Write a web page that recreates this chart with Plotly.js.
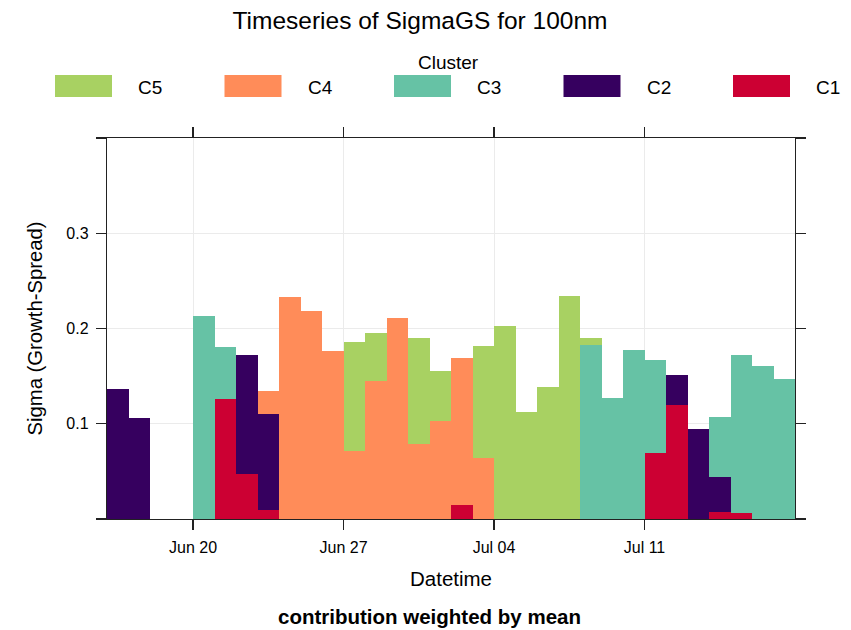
<!DOCTYPE html>
<html>
<head>
<meta charset="utf-8">
<script src="https://cdn.plot.ly/plotly-3.0.1.min.js"></script>
<style>
  html, body { margin: 0; padding: 0; background: #ffffff; }
  #chart { width: 851px; height: 630px; }
</style>
</head>
<body>
<div id="chart"></div>
<script>
// Daily mean SigmaGS (100 nm), split into cluster contributions.
const days = [
  '2023-06-16','2023-06-17','2023-06-18','2023-06-19','2023-06-20','2023-06-21','2023-06-22','2023-06-23',
  '2023-06-24','2023-06-25','2023-06-26','2023-06-27','2023-06-28','2023-06-29','2023-06-30','2023-07-01',
  '2023-07-02','2023-07-03','2023-07-04','2023-07-05','2023-07-06','2023-07-07','2023-07-08','2023-07-09',
  '2023-07-10','2023-07-11','2023-07-12','2023-07-13','2023-07-14','2023-07-15','2023-07-16','2023-07-17'
];

const c1 = [null,null,null,null,null,0.126,0.047,0.009,null,null,null,null,null,null,null,null,
            0.015,null,null,null,null,null,null,null,null,0.069,0.120,null,0.007,0.006,null,null];
const c2 = [0.137,0.106,null,null,null,null,0.125,0.101,null,null,null,null,null,null,null,null,
            null,null,null,null,null,null,null,null,null,null,0.031,0.094,0.037,null,null,null];
const c3 = [null,null,null,null,0.213,0.055,null,null,null,null,null,null,null,null,null,null,
            null,null,null,null,null,null,0.183,0.127,0.177,0.098,null,null,0.063,0.166,0.161,0.147];
const c4 = [null,null,null,null,null,null,null,0.024,0.233,0.218,0.176,0.071,0.145,0.211,0.079,0.103,
            0.154,0.064,null,null,null,null,null,null,null,null,null,null,null,null,null,null];
const c5 = [null,null,null,null,null,null,null,null,null,null,null,0.115,0.050,null,0.111,0.052,
            null,0.118,0.203,0.112,0.139,0.234,0.007,null,null,null,null,null,null,null,null,null];

const clusterNames = ['C1','C2','C3','C4','C5'];
const clusterValues = [c1, c2, c3, c4, c5];
const clusterColors = ['#CC0033','#36005F','#66C2A5','#FF8C59','#A8D162'];

const xTicks = ['2023-06-20','2023-06-27','2023-07-04','2023-07-11'];
const yTicks = [0, 0.1, 0.2, 0.3, 0.4];
const yTickText = ['', '0.1', '0.2', '0.3', ''];
const xRange = ['2023-06-16', '2023-07-18'];
const yRange = [0, 0.4];

const DAY_MS = 86400000;
const FONT = 'Liberation Sans, Arial, Helvetica, sans-serif';

// Stacked daily bars, C1 at the bottom, each spanning its whole day.
const traces = clusterNames.map((name, i) => ({
  type: 'bar',
  name: name,
  x: days,
  y: clusterValues[i],
  width: DAY_MS,
  offset: 0,
  marker: { color: clusterColors[i], line: { width: 0 } },
  showlegend: false,
  hoverinfo: 'x+y+name'
}));

// Plot area in pixels (page 851 x 630).
const W = 851, H = 630;
const M = { l: 107, r: 56, t: 138, b: 111 };
const pw = W - M.l - M.r, ph = H - M.t - M.b;
const px = v => (v - M.l) / pw;          // page pixel -> paper x
const py = v => (H - M.b - v) / ph;      // page pixel -> paper y

// Key across the top: C5 ... C1, large swatches with labels.
const shapes = [];
const annotations = [];
const keyOrder = [4, 3, 2, 1, 0];
keyOrder.forEach((ci, k) => {
  const left = 55 + k * 169.5;
  shapes.push({
    type: 'rect', xref: 'paper', yref: 'paper',
    x0: px(left), x1: px(left + 57), y0: py(97), y1: py(75),
    fillcolor: clusterColors[ci], line: { width: 0 }
  });
  annotations.push({
    xref: 'paper', yref: 'paper', x: px(left + 81), y: py(87),
    xanchor: 'left', yanchor: 'middle', showarrow: false,
    text: clusterNames[ci], font: { family: FONT, size: 19, color: '#000' }
  });
});
annotations.push({
  xref: 'paper', yref: 'paper', x: px(448), y: py(62),
  xanchor: 'center', yanchor: 'middle', showarrow: false,
  text: 'Cluster', font: { family: FONT, size: 19, color: '#000' }
});
annotations.push({
  xref: 'paper', yref: 'paper', x: px(429), y: py(629),
  xanchor: 'center', yanchor: 'bottom', showarrow: false, borderpad: 0,
  text: '<b>contribution weighted by mean</b>', font: { family: FONT, size: 20.5, color: '#000' }
});

const axisCommon = {
  showline: true, linecolor: '#222', linewidth: 1.2,
  mirror: 'allticks', ticks: 'outside', ticklen: 10, tickwidth: 1.2, tickcolor: '#222',
  showgrid: true, gridcolor: '#ebebeb', gridwidth: 1, zeroline: false,
  tickfont: { family: FONT, size: 16, color: '#000' }
};

const layout = {
  width: W, height: H,
  margin: M,
  paper_bgcolor: '#ffffff', plot_bgcolor: '#ffffff',
  barmode: 'stack',
  font: { family: FONT, color: '#000' },
  title: {
    text: 'Timeseries of SigmaGS for 100nm',
    x: 420 / W, xanchor: 'center', xref: 'container',
    y: 1 - 20 / H, yanchor: 'middle', yref: 'container',
    font: { family: FONT, size: 24.5, color: '#000' }
  },
  xaxis: Object.assign({}, axisCommon, {
    type: 'date', range: xRange,
    tickmode: 'array', tickvals: xTicks, tickformat: '%b %d',
    ticklabelstandoff: 4,
    title: { text: 'Datetime', standoff: 16, font: { family: FONT, size: 20.5, color: '#000' } }
  }),
  yaxis: Object.assign({}, axisCommon, {
    range: yRange,
    tickmode: 'array', tickvals: yTicks, ticktext: yTickText,
    ticklabelstandoff: 4,
    title: { text: 'Sigma (Growth-Spread)', standoff: 18, font: { family: FONT, size: 20.3, color: '#000' } }
  }),
  shapes: shapes,
  annotations: annotations
};

Plotly.newPlot('chart', traces, layout, { displayModeBar: false, staticPlot: true });
</script>
</body>
</html>
